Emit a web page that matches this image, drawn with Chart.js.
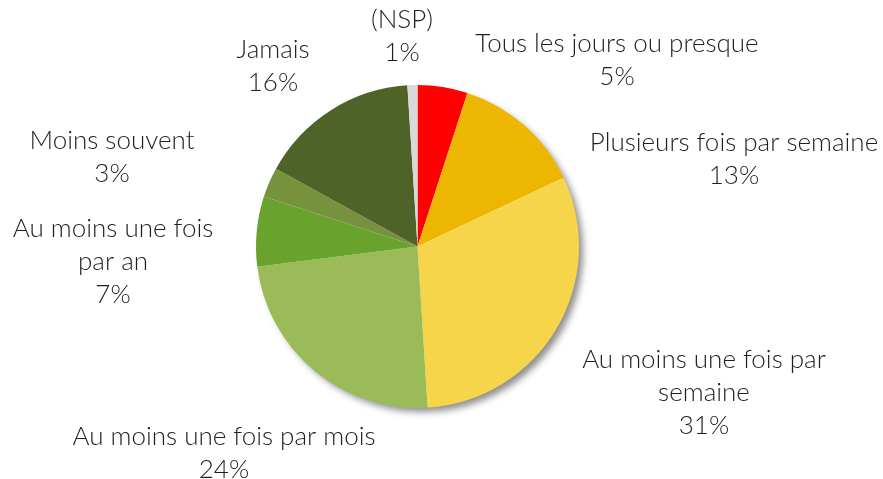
<!DOCTYPE html>
<html>
<head>
<meta charset="utf-8">
<script src="https://cdn.jsdelivr.net/npm/chart.js@4.4.0/dist/chart.umd.min.js"></script>
<style>
  html, body { margin: 0; padding: 0; background: #fff; }
  #wrap { width: 883px; height: 479px; }
</style>
</head>
<body>
<div id="wrap"><canvas id="myPieChart" width="883" height="479"></canvas></div>
<script>
var categories = [
  ["Tous les jours ou presque"],
  ["Plusieurs fois par semaine"],
  ["Au moins une fois par", "semaine"],
  ["Au moins une fois par mois"],
  ["Au moins une fois", "par an"],
  ["Moins souvent"],
  ["Jamais"],
  ["(NSP)"]
];
var percents = [5, 13, 31, 24, 7, 3, 16, 1];
var sliceColors = ["#FF0000", "#EDB600", "#F7D54A", "#9BBB59", "#6AA22E", "#76923C", "#4F6228", "#D9D9D9"];

// label centre x / first line y, in pixels (text placement only)
var labelX = [617, 734, 704, 224, 113, 112, 273, 402];
var labelY = [44, 143, 360, 437, 229, 141, 50, 20];
var lineGap = 33;

var shadowPlugin = {
  id: "pieShadow",
  beforeDatasetsDraw: function (chart) {
    var arc = chart.getDatasetMeta(0).data[0];
    var ctx = chart.ctx;
    ctx.save();
    ctx.shadowColor = "rgba(0,0,0,0.45)";
    ctx.shadowBlur = 7;
    ctx.shadowOffsetX = 5;
    ctx.shadowOffsetY = 5;
    ctx.fillStyle = "#ffffff";
    ctx.beginPath();
    ctx.arc(arc.x, arc.y, arc.outerRadius - 1, 0, Math.PI * 2);
    ctx.fill();
    ctx.restore();
  }
};

var labelPlugin = {
  id: "pieLabels",
  afterDatasetsDraw: function (chart) {
    var ctx = chart.ctx;
    ctx.save();
    ctx.fillStyle = "#1f1f1f";
    ctx.font = "300 26px Lato";
    ctx.textAlign = "center";
    ctx.textBaseline = "middle";
    categories.forEach(function (lines, i) {
      var all = lines.concat([percents[i] + "%"]);
      all.forEach(function (t, k) {
        ctx.fillText(t, labelX[i], labelY[i] + k * lineGap);
      });
    });
    ctx.restore();
  }
};

window.myPieChart = new Chart("myPieChart", {
  type: "pie",
  data: {
    labels: categories.map(function (c) { return c.join(" "); }),
    datasets: [{
      data: percents,
      backgroundColor: sliceColors,
      borderWidth: 0
    }]
  },
  options: {
    responsive: false,
    animation: false,
    layout: { padding: { left: 256, right: 304, top: 85, bottom: 71 } },
    plugins: {
      legend: { display: false },
      tooltip: { enabled: false }
    }
  },
  plugins: [shadowPlugin, labelPlugin]
});
</script>
</body>
</html>
